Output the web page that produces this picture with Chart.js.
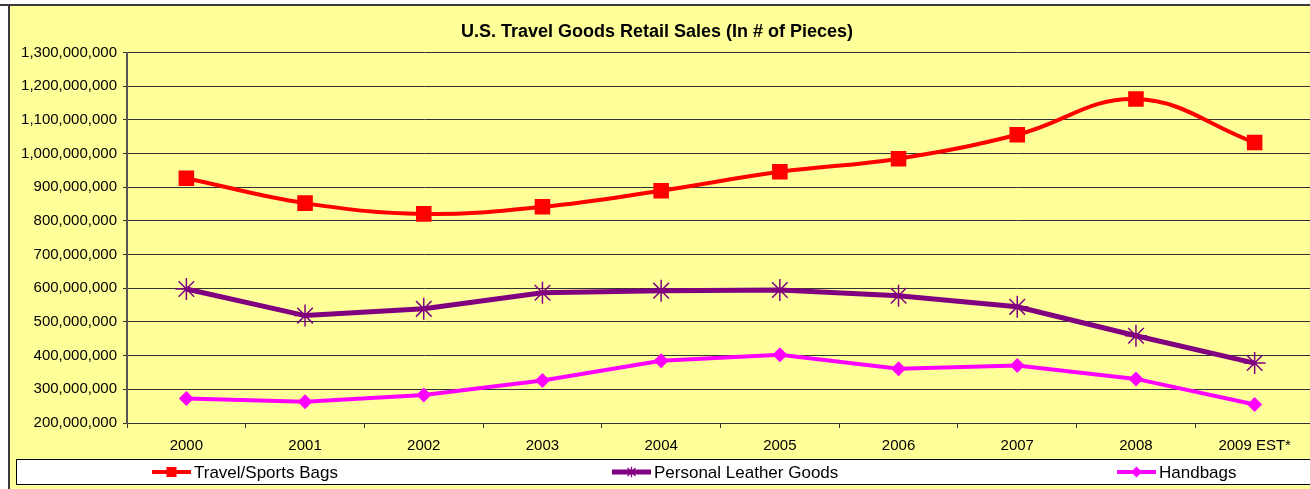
<!DOCTYPE html>
<html>
<head>
<meta charset="utf-8">
<script src="https://cdn.jsdelivr.net/npm/chart.js@4/dist/chart.umd.min.js"></script>
<style>
  html, body { margin: 0; padding: 0; background: #fff; overflow: hidden; }
  #wrap { position: absolute; left: 0; top: 0; width: 1330px; height: 489px; }
</style>
</head>
<body>
<div id="wrap"><canvas id="salesChart" width="1330" height="489"></canvas></div>
<script>
// values
const years = ["2000", "2001", "2002", "2003", "2004", "2005", "2006", "2007", "2008", "2009 EST*"];
const travelBags = [927e6, 853e6, 821e6, 842e6, 890e6, 946e6, 985e6, 1056e6, 1162e6, 1033e6];
const leatherGoods = [598e6, 519e6, 539e6, 587e6, 593e6, 595e6, 578e6, 545e6, 459e6, 378e6];
const handbags = [273e6, 263e6, 283e6, 326e6, 385e6, 403e6, 361e6, 371e6, 331e6, 255e6];
const seriesNames = ["Travel/Sports Bags", "Personal Leather Goods", "Handbags"];
const yMin = 200e6, yMax = 1300e6, yStep = 100e6;

const FONT = "'Liberation Sans', Arial, sans-serif";

// yellow panel with the dark frame
const panelBg = {
    id: "panelBg",
    beforeDraw(chart) {
        const ctx = chart.ctx;
        ctx.save();
        ctx.fillStyle = "#ffffff";
        ctx.fillRect(0, 0, chart.width, chart.height);
        ctx.fillStyle = "#FFFF99";
        ctx.fillRect(8, 4, chart.width, chart.height);
        ctx.fillStyle = "#3a3a3a";
        ctx.fillRect(0, 4, chart.width, 2);
        ctx.fillRect(8, 4, 2, chart.height);
        ctx.restore();
    }
};

function drawMarker(ctx, style, x, y, r, color) {
    ctx.save();
    ctx.fillStyle = color;
    ctx.strokeStyle = color;
    if (style == "rect") {
        ctx.fillRect(x - r, y - r, 2 * r, 2 * r);
    } else if (style == "rectRot") {
        ctx.beginPath();
        ctx.moveTo(x, y - r);
        ctx.lineTo(x + r, y);
        ctx.lineTo(x, y + r);
        ctx.lineTo(x - r, y);
        ctx.closePath();
        ctx.fill();
    } else if (style == "star") {
        ctx.lineWidth = 1.2;
        ctx.beginPath();
        ctx.moveTo(x - r, y - r); ctx.lineTo(x + r, y + r);
        ctx.moveTo(x - r, y + r); ctx.lineTo(x + r, y - r);
        ctx.moveTo(x, y - r * 1.3); ctx.lineTo(x, y + r * 1.3);
        ctx.stroke();
    }
    ctx.restore();
}

// boxed legend along the bottom, like the spreadsheet one
const boxLegend = {
    id: "boxLegend",
    afterDraw(chart) {
        const ctx = chart.ctx;
        const top = 459, bottom = 484, midY = 472;
        ctx.save();
        ctx.fillStyle = "#ffffff";
        ctx.fillRect(16, top, chart.width, bottom - top);
        ctx.strokeStyle = "#000";
        ctx.lineWidth = 1;
        ctx.strokeRect(16.5, top + 0.5, chart.width, bottom - top);
        const slots = [152, 612, 1117];
        const marks = [["rect", 5], ["star", 4], ["rectRot", 5.5]];
        chart.data.datasets.forEach((ds, i) => {
            const x0 = slots[i];
            ctx.strokeStyle = ds.borderColor;
            ctx.lineWidth = ds.borderWidth;
            ctx.beginPath();
            ctx.moveTo(x0, midY);
            ctx.lineTo(x0 + 39, midY);
            ctx.stroke();
            drawMarker(ctx, marks[i][0], x0 + 19.5, midY, marks[i][1], ds.borderColor);
            ctx.fillStyle = "#000";
            ctx.font = "17px " + FONT;
            ctx.textBaseline = "middle";
            ctx.fillText(ds.label, x0 + 42, midY + 1);
        });
        ctx.restore();
    }
};

const ctx = document.getElementById("salesChart").getContext("2d");
const salesChart = new Chart(ctx, {
    type: "line",
    data: {
        labels: years,
        datasets: [
            {
                label: seriesNames[0],
                data: travelBags,
                borderColor: "#FF0000",
                backgroundColor: "#FF0000",
                borderWidth: 4,
                tension: 0.4,
                pointStyle: "rect",
                pointRadius: 11,
                pointBorderWidth: 0,
            },
            {
                label: seriesNames[1],
                data: leatherGoods,
                borderColor: "#800080",
                backgroundColor: "#800080",
                borderWidth: 5,
                tension: 0,
                pointStyle: "star",
                pointRadius: 11,
                pointBorderWidth: 1.5,
            },
            {
                label: seriesNames[2],
                data: handbags,
                borderColor: "#FF00FF",
                backgroundColor: "#FF00FF",
                borderWidth: 4,
                tension: 0,
                pointStyle: "rectRot",
                pointRadius: 7.5,
                pointBorderWidth: 0,
            },
        ],
    },
    options: {
        responsive: false,
        animation: false,
        devicePixelRatio: 1,
        layout: { padding: { left: 0, right: 16, top: 0, bottom: 36 } },
        plugins: {
            legend: { display: false },
            tooltip: { enabled: false },
            title: {
                display: true,
                text: "U.S. Travel Goods Retail Sales (In # of Pieces)",
                color: "#000",
                font: { family: FONT, size: 18, weight: "bold" },
                padding: { top: 21, bottom: 10 },
            },
        },
        scales: {
            x: {
                offset: true,
                afterFit(scale) { scale.height = 30; },
                grid: {
                    offset: true,
                    drawOnChartArea: false,
                    drawTicks: true,
                    tickLength: 5,
                    color: "#333",
                },
                border: { color: "#333", width: 1 },
                ticks: {
                    color: "#000",
                    padding: 9,
                    maxRotation: 0,
                    font: { family: FONT, size: 15 },
                },
            },
            y: {
                min: yMin,
                max: yMax,
                afterFit(scale) { scale.width = 127; },
                grid: {
                    color: "#333",
                    tickLength: 4,
                },
                border: { color: "#555", width: 2 },
                ticks: {
                    stepSize: yStep,
                    color: "#000",
                    padding: 6,
                    font: { family: FONT, size: 15 },
                    callback: (v) => Number(v).toLocaleString("en-US"),
                },
            },
        },
    },
    plugins: [panelBg, boxLegend],
});
</script>
</body>
</html>
